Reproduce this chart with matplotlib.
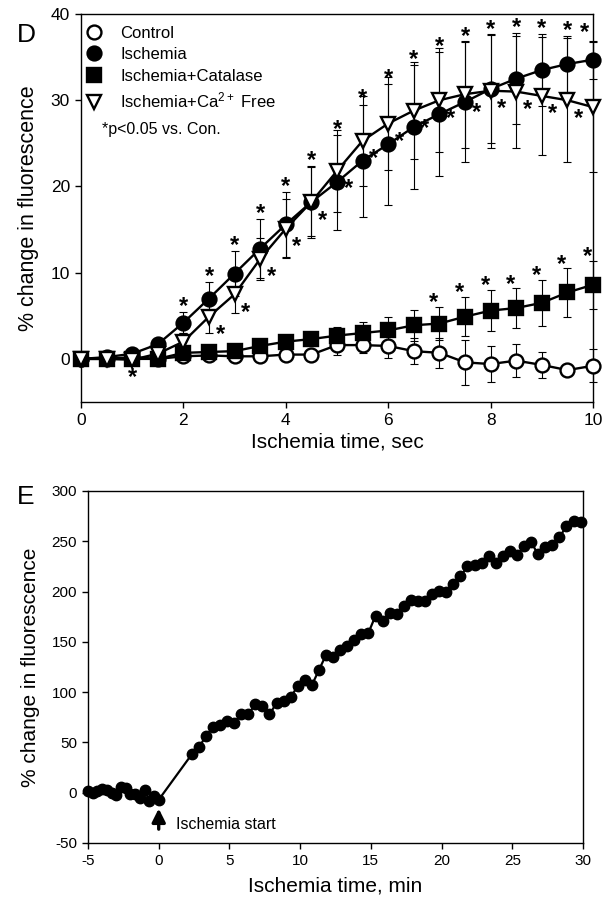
import matplotlib
matplotlib.use("Agg")
import matplotlib.pyplot as plt
from matplotlib.lines import Line2D

plt.rcParams['font.family'] = ['Liberation Sans', 'DejaVu Sans']
plt.rcParams['mathtext.default'] = 'regular'
plt.rcParams['axes.unicode_minus'] = False

# ---- panel D: fluorescence over the first 10 s of ischemia ----
t_sec = [0, 0.5, 1, 1.5, 2, 2.5, 3, 3.5, 4, 4.5, 5,
         5.5, 6, 6.5, 7, 7.5, 8, 8.5, 9, 9.5, 10]

control = [0, 0, 0.2, 0, 0.3, 0.4, 0.3, 0.3, 0.5, 0.5, 1.6,
           1.6, 1.5, 0.9, 0.7, -0.4, -0.6, -0.2, -0.7, -1.3, -0.8]
control_se = [0, 0, 0.2, 0.2, 0.3, 0.3, 0.3, 0.4, 0.5, 0.6, 1.2,
              0.9, 1.4, 1.5, 1.7, 2.6, 2.1, 1.9, 1.5, 0.5, 1.9]

ischemia = [0, 0.2, 0.6, 1.7, 4.2, 7.0, 9.9, 12.8, 15.6, 18.2, 20.5,
            23.0, 24.9, 26.9, 28.4, 29.8, 31.3, 32.5, 33.5, 34.2, 34.7]
ischemia_se = [0, 0, 0.3, 0.6, 1.2, 1.9, 2.6, 3.4, 3.8, 4.2, 5.5,
               6.5, 7.0, 7.2, 7.2, 7.0, 6.3, 5.3, 4.2, 3.2, 2.2]

catalase = [0, 0, 0, 0, 0.7, 0.8, 0.9, 1.5, 2.0, 2.3, 2.7,
            3.0, 3.3, 3.9, 4.1, 4.9, 5.6, 5.9, 6.5, 7.7, 8.6]
catalase_se = [0, 0, 0.2, 0.3, 0.4, 0.5, 0.5, 0.6, 0.7, 0.8, 1.0,
               1.3, 1.6, 1.8, 1.9, 2.3, 2.4, 2.3, 2.7, 2.8, 2.8]

ca_free = [0, 0, -0.1, 0.6, 2.0, 4.9, 7.5, 11.6, 15.1, 18.2, 21.8,
           25.3, 27.3, 28.8, 30.0, 30.7, 31.1, 31.0, 30.5, 30.0, 29.2]
ca_free_se = [0, 0, 0.3, 0.5, 1.0, 1.9, 2.2, 2.4, 3.4, 4.0, 4.8,
              5.2, 5.4, 5.6, 6.0, 6.2, 6.6, 6.5, 6.8, 7.2, 7.5]

# significance flags (*p<0.05 vs. control)
ischemia_sig = [0, 0, 0, 0, 1, 1, 1, 1, 1, 1, 1, 1, 1, 1, 1, 1, 1, 1, 1, 1, 1]
catalase_sig = [0, 0, 0, 0, 0, 0, 0, 0, 0, 0, 0, 0, 0, 0, 1, 1, 1, 1, 1, 1, 1]
ca_free_sig = [0, 0, 0, 0, 0, 1, 1, 1, 1, 1, 1, 1, 1, 1, 1, 1, 1, 1, 1, 1, 0]

# ---- panel E: long ischemia recording ----
t_min_pre = [-5, -4.67, -4.33, -4, -3.67, -3.33, -3, -2.67,
             -2.33, -2, -1.67, -1.33, -1, -0.67, -0.33, 0]
fluor_pre = [2, -0.5, 2, 3.5, 3, -0.5, -2, 6,
             5, -1, -1.5, -5, 3, -8, -3, -7]

t_min_post = [2.33, 2.83, 3.33, 3.83, 4.33, 4.83, 5.33, 5.83, 6.33, 6.83,
              7.33, 7.83, 8.33, 8.83, 9.33, 9.83, 10.33, 10.83, 11.33, 11.83,
              12.33, 12.83, 13.33, 13.83, 14.33, 14.83, 15.33, 15.83, 16.33, 16.83,
              17.33, 17.83, 18.33, 18.83, 19.33, 19.83, 20.33, 20.83, 21.33, 21.83,
              22.33, 22.83, 23.33, 23.83, 24.33, 24.83, 25.33, 25.83, 26.33, 26.83,
              27.33, 27.83, 28.33, 28.83, 29.33, 29.85]
fluor_post = [38, 45, 56, 65, 67, 71, 69, 78, 78, 88,
              86, 78, 89, 91, 95, 106, 112, 107, 122, 137,
              135, 142, 146, 152, 158, 159, 176, 171, 179, 178,
              186, 192, 191, 191, 198, 201, 200, 208, 215, 225,
              226, 228, 235, 228, 235, 240, 236, 245, 249, 237,
              244, 246, 254, 265, 270, 269]

W, H = 616, 910
fig = plt.figure(figsize=(W / 100, H / 100), dpi=100)


def px_axes(left, top, right, bottom):
    return fig.add_axes([left / W, 1 - bottom / H, (right - left) / W, (bottom - top) / H])


def style_axes(ax, fs):
    for sp in ax.spines.values():
        sp.set_linewidth(1.0)
    ax.tick_params(direction='out', length=4, width=1, labelsize=fs, pad=4)


def stars(ax, xs, ys, flags, dx, dy, fs=17):
    # asterisk glyph centre sits ~0.57 em above the baseline
    for x, y, f in zip(xs, ys, flags):
        if f:
            ax.annotate('*', xy=(x, y), xytext=(dx, dy - 0.57 * fs),
                        textcoords='offset points', ha='center', va='baseline',
                        fontsize=fs, fontweight='bold', annotation_clip=False)


# ---------------- panel D ----------------
axD = px_axes(81, 14, 593, 402)
style_axes(axD, 12.5)

err_kw = dict(fmt='none', ecolor='black', elinewidth=0.8, capsize=3, capthick=0.8,
              clip_on=False, zorder=2)
axD.errorbar(t_sec, control, yerr=control_se, **err_kw)
axD.errorbar(t_sec, catalase, yerr=catalase_se, **err_kw)
axD.errorbar(t_sec, ischemia, yerr=ischemia_se, **err_kw)
axD.errorbar(t_sec, ca_free, yerr=ca_free_se, **err_kw)

line_kw = dict(color='black', lw=1.7, ms=10, mew=1.7, clip_on=False, zorder=3)
axD.plot(t_sec, control, marker='o', mfc='white', mec='black', **line_kw)
axD.plot(t_sec, catalase, marker='s', mfc='black', mec='black', **line_kw)
axD.plot(t_sec, ischemia, marker='o', mfc='black', mec='black', **line_kw)
axD.plot(t_sec, ca_free, marker='v', mfc='white', mec='black', **line_kw)

isch_top = [y + e for y, e in zip(ischemia, ischemia_se)]
cat_top = [y + e for y, e in zip(catalase, catalase_se)]
stars(axD, t_sec[:-1], isch_top[:-1], ischemia_sig[:-1], 0, 9)
stars(axD, t_sec[-1:], isch_top[-1:], ischemia_sig[-1:], -6, 11)
stars(axD, t_sec, cat_top, catalase_sig, -4, 8)
stars(axD, t_sec, ca_free, ca_free_sig, 8, -8)
stars(axD, [t_sec[2]], [ca_free[2]], [1], 0, -8)

axD.set_xlim(0, 10)
axD.set_ylim(-5, 40)
axD.set_xticks([0, 2, 4, 6, 8, 10])
axD.set_yticks([0, 10, 20, 30, 40])
axD.set_xlabel('Ischemia time, sec', fontsize=15, labelpad=3)
axD.set_ylabel('% change in fluorescence', fontsize=15.5, labelpad=8)

handles = [
    Line2D([], [], ls='none', marker='o', mfc='white', mec='black', ms=10, mew=1.7),
    Line2D([], [], ls='none', marker='o', mfc='black', mec='black', ms=10, mew=1.7),
    Line2D([], [], ls='none', marker='s', mfc='black', mec='black', ms=10, mew=1.7),
    Line2D([], [], ls='none', marker='v', mfc='white', mec='black', ms=10, mew=1.7),
]
labels = ['Control', 'Ischemia', 'Ischemia+Catalase', 'Ischemia+Ca$^{2+}$ Free']
axD.legend(handles, labels, loc='upper left', bbox_to_anchor=(0.005, 0.97),
           frameon=False, fontsize=12, handlelength=1.2, handletextpad=1.0,
           labelspacing=0.4, borderaxespad=0, borderpad=0)
axD.text(0.041, 0.703, '*p<0.05 vs. Con.', transform=axD.transAxes,
         fontsize=11.5, ha='left', va='center')

fig.text(26 / W, 1 - 35 / H, 'D', fontsize=19, ha='center', va='center')

# ---------------- panel E ----------------
axE = px_axes(88, 491, 583, 843)
style_axes(axE, 11)

t_all = t_min_pre + t_min_post
f_all = fluor_pre + fluor_post
axE.plot(t_all, f_all, color='black', lw=1.6, marker='o', ms=7.5, clip_on=False)

axE.annotate('', xy=(0, -13), xytext=(0, -39),
             arrowprops=dict(arrowstyle='-|>', color='black', lw=2.4, mutation_scale=20))
axE.text(1.2, -32, 'Ischemia start', fontsize=11.5, ha='left', va='center')

axE.set_xlim(-5, 30)
axE.set_ylim(-50, 300)
axE.set_xticks([-5, 0, 5, 10, 15, 20, 25, 30])
axE.set_yticks([-50, 0, 50, 100, 150, 200, 250, 300])
axE.set_xlabel('Ischemia time, min', fontsize=15, labelpad=6)
axE.set_ylabel('% change in fluorescence', fontsize=15, labelpad=8)

fig.text(26 / W, 1 - 497 / H, 'E', fontsize=19, ha='center', va='center')

fig.savefig('out.png', dpi=100)
